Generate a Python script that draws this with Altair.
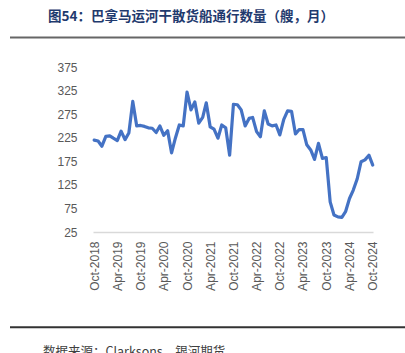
import altair as alt
import pandas as pd

title_text = ["图54：巴拿马运河干散货船通行数量（艘，月）"]
source_text = ["数据来源：Clarksons，银河期货"]

months = pd.date_range("2018-10-01", periods=73, freq="MS")
values = [220, 218, 207, 228, 229, 224, 219, 239, 221, 235,
          302, 250, 251, 249, 246, 245, 236, 250, 230, 240,
          193, 224, 252, 250, 322, 284, 301, 256, 268, 299,
          248, 243, 224, 252, 246, 188, 296, 295, 284, 250,
          266, 268, 238, 227, 282, 254, 250, 252, 231, 264,
          282, 281, 233, 242, 242, 210, 199, 179, 213, 181,
          183, 89, 61, 57, 56, 68, 96, 114, 138, 174,
          178, 188, 167]
tick_dates = pd.date_range("2018-10-01", "2024-10-01", freq="6MS")
y_ticks = [25, 75, 125, 175, 225, 275, 325, 375]

df = pd.DataFrame({"date": months, "value": values})

x_axis = alt.Axis(
    values=[d.isoformat() for d in tick_dates],
    format="%b-%Y", labelAngle=-90, labelAlign="right", labelBaseline="middle",
    labelFontSize=12, labelFont="Liberation Sans", labelColor="#595959",
    labelPadding=9, labelOverlap=False, ticks=False, grid=False,
    domainColor="#D9D9D9", domainWidth=1.5, title=None,
)
y_axis = alt.Axis(
    values=y_ticks, labelFontSize=12, labelFont="Liberation Sans",
    labelColor="#595959", labelPadding=16, ticks=False, grid=False,
    domain=False, title=None,
)

line = alt.Chart(df).mark_line(color="#4472C4", strokeWidth=3.2,
                               strokeJoin="round", strokeCap="round").encode(
    x=alt.X("date:T", axis=x_axis,
            scale=alt.Scale(domain=["2018-09-22", "2024-10-03"], nice=False)),
    y=alt.Y("value:Q", axis=y_axis, scale=alt.Scale(domain=[25, 375], nice=False, zero=False)),
)

title = alt.Chart(pd.DataFrame({"t": title_text})).mark_text(
    align="left", baseline="middle", font="Noto Sans CJK SC", fontSize=13.5,
    fontWeight="bold", color="#1F3A6E",
).encode(text="t:N", x=alt.value(-45), y=alt.value(-50))

source = alt.Chart(pd.DataFrame({"t": source_text})).mark_text(
    align="left", baseline="top", font="Noto Sans CJK SC", fontSize=12.5,
    color="#404040",
).encode(text="t:N", x=alt.value(-50), y=alt.value(279))

top_rule = alt.Chart(pd.DataFrame({"a": [0]})).mark_rule(color="#666666", strokeWidth=2).encode(
    x=alt.value(-83), x2=alt.value(312), y=alt.value(-29.5))
bottom_rule = alt.Chart(pd.DataFrame({"a": [0]})).mark_rule(color="#333333", strokeWidth=2).encode(
    x=alt.value(-83), x2=alt.value(312), y=alt.value(260.3))

chart = alt.layer(line, title, source, top_rule, bottom_rule).properties(
    width=280, height=165,
    autosize=alt.AutoSizeParams(type="none"),
    padding={"left": 93, "top": 67, "right": 32, "bottom": 121},
    background="white",
).configure_view(stroke=None)

chart.save("out.html", embed_options={"renderer": "svg", "actions": False})
